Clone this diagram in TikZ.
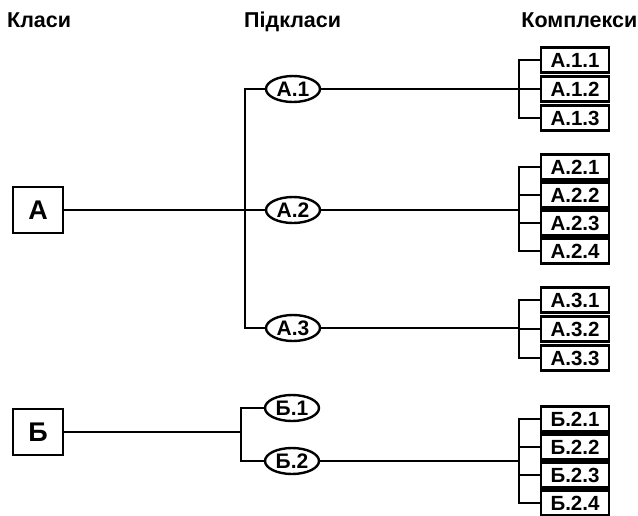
\documentclass[tikz,border=0pt]{standalone}
\usepackage{fontspec}
\setmainfont{Liberation Sans}
\usetikzlibrary{shapes.geometric}
\begin{document}
\begin{tikzpicture}[x=1pt,y=-1pt,
  hdr/.style={font=\bfseries\fontsize{21.5}{24}\selectfont, inner sep=0pt},
  cls/.style={draw, line width=2.4pt, minimum width=50pt, minimum height=46pt, inner sep=0pt, font=\bfseries\fontsize{27}{29}\selectfont},
  sub/.style={draw, ellipse, line width=2.4pt, minimum width=54pt, minimum height=26pt, inner sep=0pt, font=\bfseries\fontsize{21}{23}\selectfont},
  cpx/.style={draw, line width=2.4pt, minimum width=68pt, minimum height=25pt, inner sep=0pt, font=\bfseries\fontsize{20.5}{22}\selectfont},
  ln/.style={line width=1.7pt}]
\useasboundingbox (0,0) rectangle (638,515);
% headers
\node[hdr, anchor=base west] (h1) at (7,27) {Класи};
\node[hdr, anchor=base west] (h2) at (244,27) {Підкласи};
\node[hdr, anchor=base east] (h3) at (637.5,27) {Комплекси};
% classes
\node[cls] (A) at (38,210) {А};
\node[cls] (B) at (38,432) {Б};
% subclasses
\node[sub] (A1) at (293,89) {А.1};
\node[sub] (A2) at (293,210) {А.2};
\node[sub] (A3) at (293,328) {А.3};
\node[sub] (B1) at (292,408) {Б.1};
\node[sub] (B2) at (292,461) {Б.2};
% complexes
\node[cpx] (A11) at (575,60) {А.1.1};
\node[cpx] (A12) at (575,89) {А.1.2};
\node[cpx] (A13) at (575,118) {А.1.3};
\node[cpx] (A21) at (575,167) {А.2.1};
\node[cpx] (A22) at (575,195) {А.2.2};
\node[cpx] (A23) at (575,223) {А.2.3};
\node[cpx] (A24) at (575,251) {А.2.4};
\node[cpx] (A31) at (575,300) {А.3.1};
\node[cpx] (A32) at (575,329) {А.3.2};
\node[cpx] (A33) at (575,358) {А.3.3};
\node[cpx] (B21) at (575,419) {Б.2.1};
\node[cpx] (B22) at (575,447) {Б.2.2};
\node[cpx] (B23) at (575,475) {Б.2.3};
\node[cpx] (B24) at (575,503) {Б.2.4};
% class A to subclasses
\draw[ln] (A.east) -- (A2.west);
\draw[ln] (A1.west) -- (245,89) -- (245,328) -- (A3.west);
% class B to subclasses
\draw[ln] (B.east) -- (241,432);
\draw[ln] (B1.west) -- (241,408) -- (241,461) -- (B2.west);
% A.1 complexes
\draw[ln] (A1.east) -- (519,89);
\draw[ln] (A11.west) -- (519,60) -- (519,118) -- (A13.west);
\draw[ln] (519,89) -- (A12.west);
% A.2 complexes
\draw[ln] (A2.east) -- (519,210);
\draw[ln] (A21.west) -- (519,167) -- (519,251) -- (A24.west);
\draw[ln] (519,195) -- (A22.west);
\draw[ln] (519,223) -- (A23.west);
% A.3 complexes
\draw[ln] (A3.east) -- (519,328);
\draw[ln] (A31.west) -- (519,300) -- (519,358) -- (A33.west);
\draw[ln] (519,329) -- (A32.west);
% B.2 complexes
\draw[ln] (B2.east) -- (519,461);
\draw[ln] (B21.west) -- (519,419) -- (519,503) -- (B24.west);
\draw[ln] (519,447) -- (B22.west);
\draw[ln] (519,475) -- (B23.west);
\end{tikzpicture}
\end{document}
